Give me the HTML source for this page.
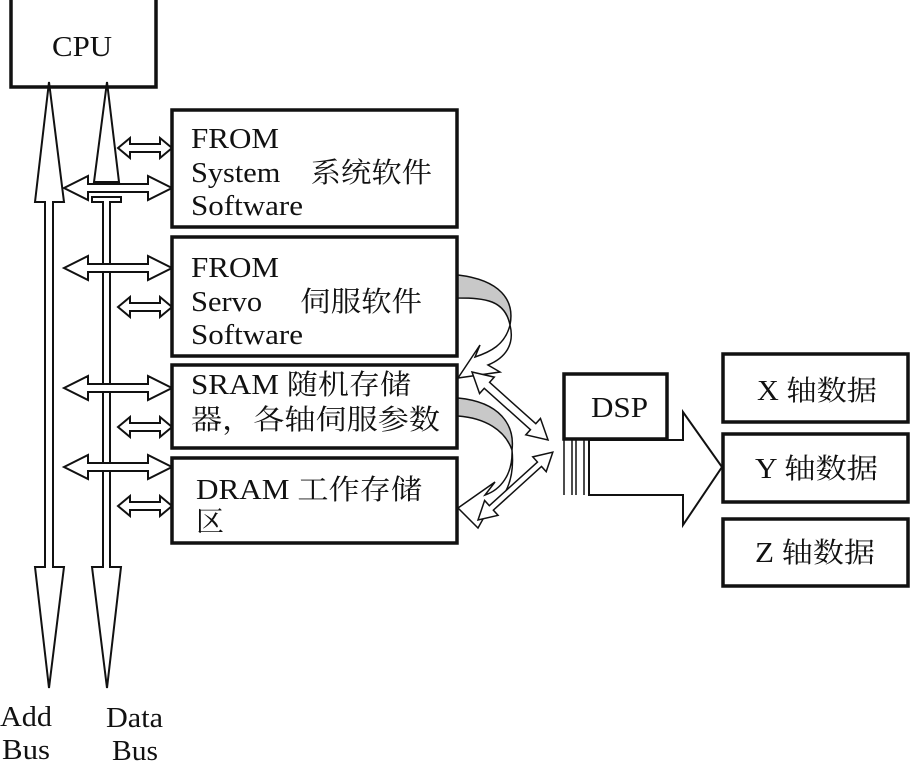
<!DOCTYPE html>
<html><head><meta charset="utf-8"><style>
html,body{margin:0;padding:0;background:#fff;}
svg{display:block;}
text{font-family:"Liberation Serif","Noto Serif CJK SC","Noto Sans CJK SC",serif;font-size:28px;fill:#111;}
</style></head><body>
<svg width="910" height="761" viewBox="0 0 910 761" xmlns="http://www.w3.org/2000/svg">
<g fill="#fff" stroke="#111" stroke-width="2">
<rect x="11" y="-3" width="145" height="90" stroke-width="3.5"/>
<polygon points="49,82 64,202 53,202 53,567 64,567 49,688 35,567 45,567 45,202 35,202"/>
<polygon points="107,82 119,182 94,182"/>
<polygon points="92,197 121,197 121,202 110,202 110,567 121,567 107,688 92,567 103,567 103,202 92,202"/>
</g>
<g fill="#fff" stroke="#111" stroke-width="2">
<g id="la"><polygon points="64,188 88,176 88,184 148,184 148,176 172,188 148,200 148,192 88,192 88,200"/></g>
<use href="#la" y="80"/>
<use href="#la" y="200"/>
<use href="#la" y="279"/>
<g id="sa"><polygon points="118,148 130,138 130,144 160,144 160,138 172,148 160,158 160,152 130,152 130,158"/></g>
<use href="#sa" y="159"/>
<use href="#sa" y="279"/>
<use href="#sa" y="358"/>
</g>
<g fill="#fff" stroke="#111" stroke-width="3.5">
<rect x="172" y="110" width="285" height="117"/>
<rect x="172" y="237" width="285" height="119"/>
<rect x="172" y="365" width="285" height="83"/>
<rect x="172" y="458" width="285" height="85"/>
<rect x="564" y="374" width="103" height="65"/>
<rect x="723" y="354" width="185" height="68"/>
<rect x="723" y="434" width="185" height="68"/>
<rect x="723" y="519" width="185" height="67"/>
</g>
<g stroke="#111" stroke-width="1.5">
<path d="M458,275 C500,280 515,300 510,325 C505,300 485,298 458,298 Z" fill="#c8c8c8"/>
<path d="M510,325 C505,345 490,352 475,357 L480,345 L458,378 L500,372 L488,365 C505,358 515,345 510,325" fill="#fff"/>
<path d="M458,398 C500,402 515,425 512,450 C505,430 485,418 458,416 Z" fill="#c8c8c8"/>
<path d="M512,450 C513,475 500,490 485,495 L495,482 L458,508 L478,528 L488,510 C505,500 515,480 512,450" fill="#fff"/>
<g transform="translate(472,372) rotate(41.8)">
<polygon points="0,0 20,-11 20,-4 82,-4 82,-11 102,0 82,11 82,4 20,4 20,11" fill="#fff"/>
</g>
<g transform="translate(478,520) rotate(-42.2)">
<polygon points="0,0 18,-10 18,-3 83,-3 83,-10 101,0 83,10 83,3 18,3 18,10" fill="#fff"/>
</g>
</g>
<g stroke="#111" stroke-width="1.5" fill="none">
<line x1="564" y1="440" x2="564" y2="495"/>
<line x1="572" y1="440" x2="572" y2="495"/>
<line x1="576" y1="440" x2="576" y2="495"/>
<line x1="584" y1="440" x2="584" y2="495"/>
<line x1="589" y1="440" x2="589" y2="495"/>
</g>
<polygon points="589,440 683,440 683,412 722,467 683,525 683,495 589,495" fill="#fff" stroke="#111" stroke-width="2"/>
<g>
<text x="52" y="56" textLength="60" lengthAdjust="spacingAndGlyphs">CPU</text>
<text x="191" y="148" textLength="88" lengthAdjust="spacingAndGlyphs">FROM</text>
<text x="191" y="182" textLength="241" lengthAdjust="spacingAndGlyphs">System　系统软件</text>
<text x="191" y="215" textLength="112" lengthAdjust="spacingAndGlyphs">Software</text>
<text x="191" y="277" textLength="88" lengthAdjust="spacingAndGlyphs">FROM</text>
<text x="191" y="311" textLength="231" lengthAdjust="spacingAndGlyphs">Servo　 伺服软件</text>
<text x="191" y="344" textLength="112" lengthAdjust="spacingAndGlyphs">Software</text>
<text x="191" y="394" textLength="220" lengthAdjust="spacingAndGlyphs">SRAM 随机存储</text>
<text x="191" y="429" textLength="249" lengthAdjust="spacingAndGlyphs">器，各轴伺服参数</text>
<text x="196" y="499" textLength="226" lengthAdjust="spacingAndGlyphs">DRAM 工作存储</text>
<text x="196" y="531" textLength="28" lengthAdjust="spacingAndGlyphs">区</text>
<text x="591" y="417" textLength="57" lengthAdjust="spacingAndGlyphs">DSP</text>
<text x="757" y="400" textLength="120" lengthAdjust="spacingAndGlyphs">X 轴数据</text>
<text x="755" y="478" textLength="123" lengthAdjust="spacingAndGlyphs">Y 轴数据</text>
<text x="755" y="562" textLength="120" lengthAdjust="spacingAndGlyphs">Z 轴数据</text>
<text x="0" y="726" textLength="52" lengthAdjust="spacingAndGlyphs">Add</text>
<text x="2" y="759" textLength="48" lengthAdjust="spacingAndGlyphs">Bus</text>
<text x="106" y="727" textLength="57" lengthAdjust="spacingAndGlyphs">Data</text>
<text x="112" y="760" textLength="46" lengthAdjust="spacingAndGlyphs">Bus</text>
</g>
</svg>
</body></html>
